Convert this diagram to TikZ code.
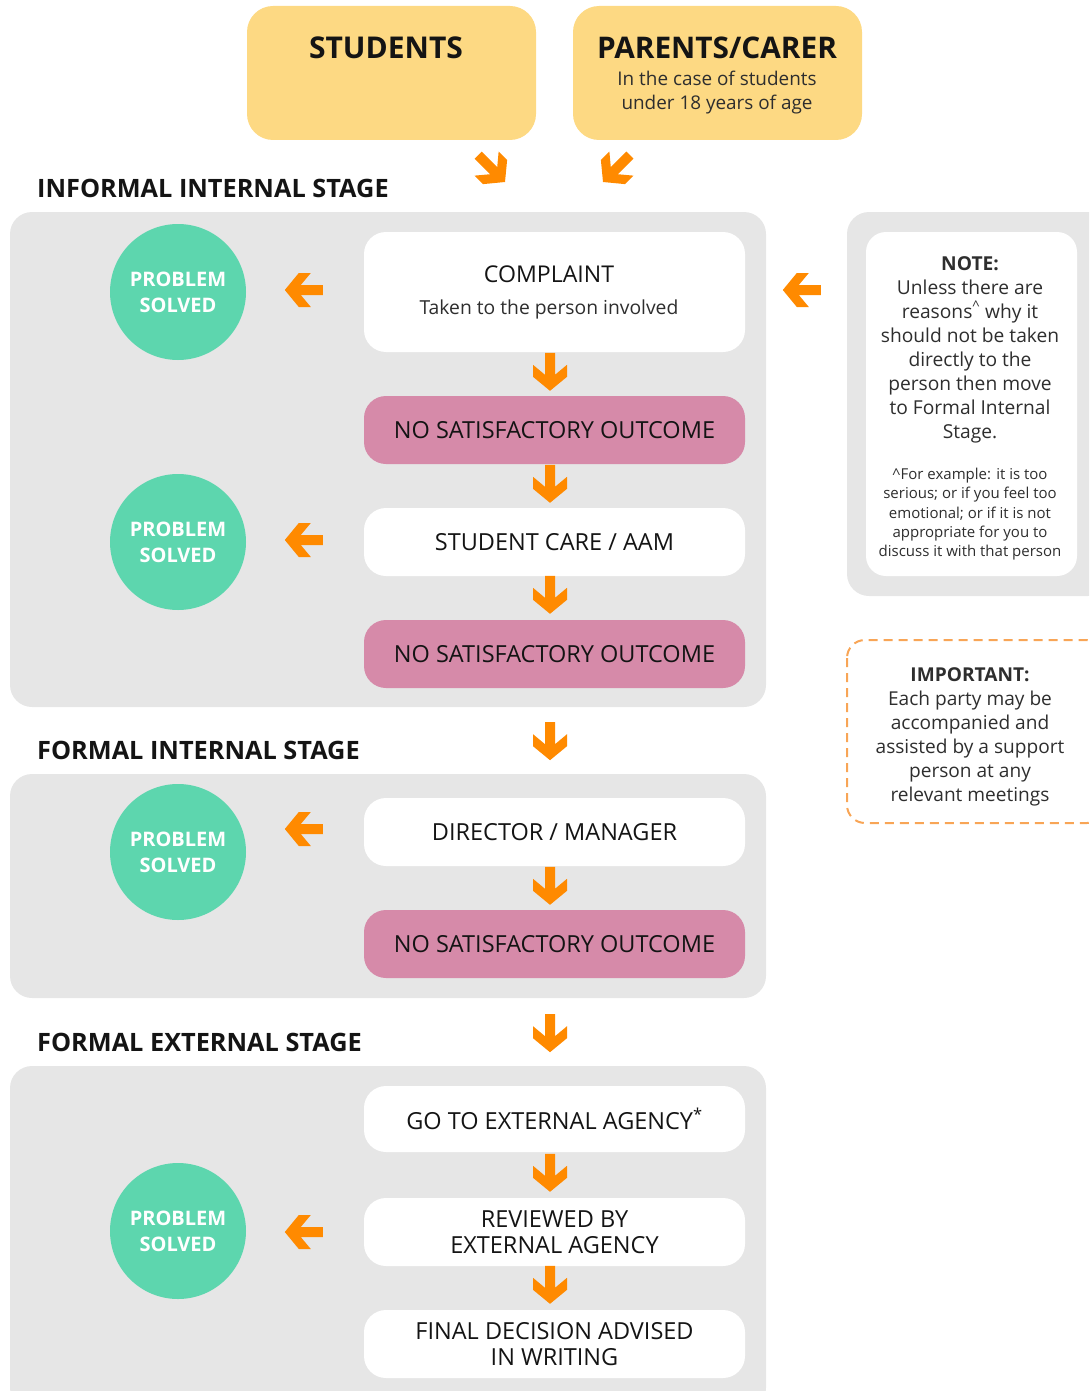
\documentclass[tikz,border=0pt]{standalone}
\usepackage{fontspec}
\setmainfont{Open Sans}
\usetikzlibrary{calc}
\definecolor{yel}{HTML}{FDD983}
\definecolor{pgray}{HTML}{E6E6E6}
\definecolor{pnk}{HTML}{D68AA9}
\definecolor{grn}{HTML}{5DD6AE}
\definecolor{orng}{HTML}{FF8A00}
\definecolor{dshc}{HTML}{F8A556}
\definecolor{txt}{HTML}{141414}
\definecolor{ntxt}{HTML}{2E2E2E}
\tikzset{
  panel/.style={fill=pgray, rounded corners=22pt},
  topbox/.style={fill=yel, rounded corners=26pt, minimum width=289pt, minimum height=134pt, inner sep=0pt},
  wbox/.style={fill=white, rounded corners=22pt, minimum width=381pt, minimum height=68pt, inner sep=0pt, align=center, text=txt, font=\fontsize{23.5}{26}\selectfont},
  pbox/.style={wbox, fill=pnk},
  solved/.style={circle, fill=grn, minimum size=136pt, inner sep=0pt, align=center, text=white, font=\bfseries\fontsize{20}{26}\selectfont},
  stagetitle/.style={anchor=base west, inner sep=0pt, text=txt, font=\bfseries\fontsize{25.3}{30}\selectfont},
  farr/.pic={\fill[orng] (0,0) -- (-17,-14) -- (-17,-26) -- (-5,-16) -- (-5,-38) -- (5,-38) -- (5,-16) -- (17,-26) -- (17,-14) -- cycle;},
}
\begin{document}
\begin{tikzpicture}[x=1pt,y=-1pt]
\useasboundingbox (0,0) rectangle (1089,1391);
\clip (0,0) rectangle (1089,1391);
% top boxes
\node[topbox] (students) at (391.5,73) {};
\node[topbox] (parents) at (717.5,73) {};
\node[font=\bfseries\fontsize{30}{34}\selectfont, text=txt, inner sep=0pt] (studentsT) at (386,48) {STUDENTS};
\node[font=\bfseries\fontsize{29.8}{34}\selectfont, text=txt, inner sep=0pt] (parentsT) at (717,48) {PARENTS/CARER};
\node[font=\fontsize{18.9}{24}\selectfont, text=ntxt, align=center, inner sep=0pt] (parentsS) at (717,93) {In the case of students\\under 18 years of age};
\pic[rotate=45] at (505,182) {farr};
\pic[rotate=-45] at (603,182) {farr};
% stage titles
\node[stagetitle] (t1) at (37,197) {INFORMAL INTERNAL STAGE};
\node[stagetitle] (t2) at (37,759) {FORMAL INTERNAL STAGE};
\node[stagetitle] (t3) at (37,1051) {FORMAL EXTERNAL STAGE};
% panels
\fill[panel] (10,212) rectangle (766,707);
\fill[panel] (10,774) rectangle (766,998);
\fill[panel] (10,1066) rectangle (766,1410);
\fill[panel] (847,212) rectangle (1110,596);
% note
\node[fill=white, rounded corners=20pt, minimum width=211pt, minimum height=344pt, inner sep=0pt] (notebox) at (971.5,404) {};
\node[text=ntxt, align=center, inner sep=0pt, anchor=north, font=\fontsize{19.2}{24}\selectfont] (notetext) at (970,256) {{\bfseries NOTE:}\\Unless there are\\reasons\textsuperscript{\^{}} why it\\should not be taken\\directly to the\\person then move\\to Formal Internal\\Stage.};
\node[text=ntxt, align=center, inner sep=0pt, anchor=north, font=\fontsize{15}{19.2}\selectfont] (notefoot) at (970,468) {\^{}For example: it is too\\serious; or if you feel too\\emotional; or if it is not\\appropriate for you to\\discuss it with that person};
% important
\draw[dshc, line width=2pt, dash pattern=on 9pt off 6pt, rounded corners=18pt] (847,640) rectangle (1105,823);
\node[text=ntxt, align=center, inner sep=0pt, anchor=north, font=\fontsize{19.1}{24}\selectfont] (important) at (970,667) {{\bfseries IMPORTANT:}\\Each party may be\\accompanied and\\assisted by a support\\person at any\\relevant meetings};
% flow boxes
\node[wbox, minimum height=120pt] (complaint) at (554.5,292) {};
\node[text=txt, inner sep=0pt, font=\fontsize{23.1}{26}\selectfont] (complaintT) at (549,274) {COMPLAINT};
\node[text=ntxt, inner sep=0pt, font=\fontsize{19.3}{22}\selectfont] (complaintS) at (549,309) {Taken to the person involved};
\node[pbox] (nso1) at (554.5,430) {NO SATISFACTORY OUTCOME};
\node[wbox] (care) at (554.5,542) {STUDENT CARE / AAM};
\node[pbox] (nso2) at (554.5,654) {NO SATISFACTORY OUTCOME};
\node[wbox] (director) at (554.5,832) {DIRECTOR / MANAGER};
\node[pbox] (nso3) at (554.5,944) {NO SATISFACTORY OUTCOME};
\node[wbox, minimum height=66pt] (goext) at (554.5,1119) {GO TO EXTERNAL AGENCY\textsuperscript{*}};
\node[wbox] (reviewed) at (554.5,1232) {REVIEWED BY\\EXTERNAL AGENCY};
\node[wbox] (final) at (554.5,1344) {FINAL DECISION ADVISED\\IN WRITING};
% circles
\node[solved] (s1) at (178,292) {PROBLEM\\SOLVED};
\node[solved] (s2) at (178,542) {PROBLEM\\SOLVED};
\node[solved] (s3) at (178,852) {PROBLEM\\SOLVED};
\node[solved] (s4) at (178,1231) {PROBLEM\\SOLVED};
% down arrows
\pic at ($(nso1.north)+(-4.5,-5)$) {farr};
\pic at ($(care.north)+(-4.5,-5)$) {farr};
\pic at ($(nso2.north)+(-4.5,-6)$) {farr};
\pic at ($(nso2.south)+(-4.5,72)$) {farr};
\pic at ($(nso3.north)+(-4.5,-5)$) {farr};
\pic at ($(nso3.south)+(-4.5,74)$) {farr};
\pic at ($(reviewed.north)+(-4.5,-6)$) {farr};
\pic at ($(final.north)+(-4.5,-6)$) {farr};
% left arrows
\pic[rotate=-90] at ($(complaint.west)+(-79,-2)$) {farr};
\pic[rotate=-90] at ($(care.west)+(-79,-2)$) {farr};
\pic[rotate=-90] at ($(director.west)+(-79,-3)$) {farr};
\pic[rotate=-90] at ($(reviewed.west)+(-79,0)$) {farr};
\pic[rotate=-90] at ($(notebox.west)+(-83,-114)$) {farr};
\end{tikzpicture}
\end{document}
